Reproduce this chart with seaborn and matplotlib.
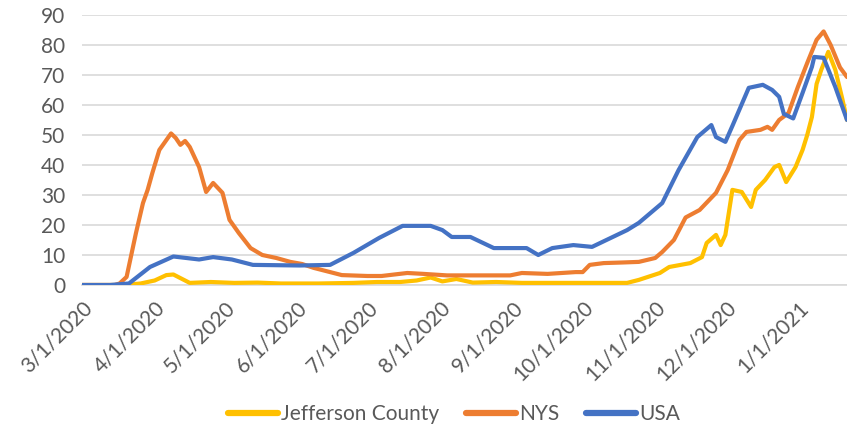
import matplotlib
matplotlib.use("Agg")
import matplotlib.pyplot as plt
import pandas as pd
import seaborn as sns

# ── Data ──────────────────────────────────────────────────────────────────────

jeff_dates = [
    "3/1/2020", "3/19/2020", "3/26/2020", "4/1/2020", "4/6/2020", "4/9/2020",
    "4/12/2020", "4/16/2020", "4/25/2020", "5/5/2020", "5/15/2020", "5/25/2020",
    "6/10/2020", "6/25/2020", "7/5/2020", "7/15/2020", "7/22/2020", "7/28/2020",
    "8/2/2020", "8/8/2020", "8/15/2020", "8/25/2020", "9/5/2020", "9/20/2020",
    "10/5/2020", "10/20/2020", "10/25/2020", "11/3/2020", "11/7/2020",
    "11/16/2020", "11/21/2020", "11/23/2020", "11/27/2020", "11/29/2020",
    "12/1/2020", "12/4/2020", "12/8/2020", "12/12/2020", "12/14/2020",
    "12/18/2020", "12/22/2020", "12/24/2020", "12/27/2020", "12/31/2020",
    "1/3/2021", "1/5/2021", "1/7/2021", "1/9/2021", "1/11/2021", "1/14/2021",
    "1/17/2021", "1/20/2021", "1/22/2021",
]
jeff_vals = [
    0, 0, 0.5, 1.5, 3.3, 3.5,
    2.3, 0.7, 1.0, 0.7, 0.8, 0.5,
    0.5, 0.7, 1.0, 1.0, 1.5, 2.5,
    1.2, 2.0, 0.8, 1.0, 0.7, 0.7,
    0.7, 0.7, 1.7, 4.0, 6.0,
    7.3, 9.3, 14.0, 16.7, 13.3,
    16.7, 31.7, 31.0, 26.0, 31.7,
    35.0, 39.3, 40.0, 34.3, 39.3,
    45.0, 50.0, 56.0, 67.0, 71.7, 77.7,
    71.7, 62.0, 55.0,
]

nys_dates = [
    "3/1/2020", "3/15/2020", "3/17/2020", "3/20/2020", "3/24/2020", "3/27/2020",
    "3/29/2020", "3/31/2020", "4/3/2020", "4/6/2020", "4/8/2020", "4/10/2020",
    "4/12/2020", "4/14/2020", "4/16/2020", "4/20/2020", "4/23/2020", "4/26/2020",
    "4/30/2020", "5/3/2020", "5/7/2020", "5/12/2020", "5/17/2020", "5/23/2020",
    "5/29/2020", "6/3/2020", "6/8/2020", "6/14/2020", "6/20/2020", "7/1/2020",
    "7/7/2020", "7/18/2020", "7/25/2020", "8/4/2020", "8/20/2020", "8/31/2020",
    "9/5/2020", "9/16/2020", "9/28/2020", "10/1/2020", "10/4/2020", "10/10/2020",
    "10/18/2020", "10/25/2020", "11/1/2020", "11/4/2020", "11/9/2020",
    "11/14/2020", "11/20/2020", "11/27/2020", "12/2/2020", "12/7/2020",
    "12/10/2020", "12/16/2020", "12/19/2020", "12/21/2020", "12/24/2020",
    "12/28/2020", "1/1/2021", "1/5/2021", "1/9/2021", "1/12/2021", "1/15/2021",
    "1/19/2021", "1/22/2021",
]
nys_vals = [
    0, 0, 0.5, 2.7, 17.3, 27.3,
    31.7, 37.3, 45.0, 48.3, 50.5, 49.0,
    46.7, 48.0, 46.0, 39.3, 31.0, 34.0,
    30.7, 21.7, 17.3, 12.3, 10.0, 9.0,
    7.7, 7.0, 5.7, 4.5, 3.3, 3.0,
    3.0, 4.0, 3.7, 3.2, 3.2, 3.2,
    4.0, 3.7, 4.3, 4.3, 6.7, 7.3,
    7.5, 7.7, 9.0, 11.0, 15.0,
    22.5, 25.0, 30.7, 38.3, 48.3,
    51.0, 51.7, 52.7, 51.7, 55.0,
    57.3, 66.0, 74.0, 81.7, 84.5, 80.0,
    72.5, 69.3,
]

usa_dates = [
    "3/1/2020", "3/13/2020", "3/21/2020", "3/30/2020", "4/9/2020", "4/20/2020",
    "4/26/2020", "5/4/2020", "5/13/2020", "6/2/2020", "6/15/2020", "6/25/2020",
    "7/6/2020", "7/16/2020", "7/28/2020", "8/2/2020", "8/6/2020", "8/14/2020",
    "8/24/2020", "9/7/2020", "9/12/2020", "9/18/2020", "9/27/2020", "10/5/2020",
    "10/20/2020", "10/25/2020", "11/4/2020", "11/11/2020", "11/19/2020",
    "11/25/2020", "11/27/2020", "12/1/2020", "12/4/2020", "12/11/2020",
    "12/17/2020", "12/21/2020", "12/24/2020", "12/26/2020", "12/30/2020",
    "1/3/2021", "1/7/2021", "1/8/2021", "1/12/2021", "1/17/2021", "1/22/2021",
]
usa_vals = [
    0, 0, 0.5, 6.0, 9.5, 8.5,
    9.3, 8.5, 6.7, 6.5, 6.7, 10.7,
    15.7, 19.7, 19.7, 18.3, 16.0, 16.0,
    12.3, 12.3, 10.0, 12.3, 13.3, 12.7,
    18.3, 20.7, 27.3, 38.3, 49.3,
    53.3, 49.3, 47.7, 53.0, 65.7,
    66.7, 65.0, 62.7, 57.0, 55.5,
    64.0, 72.7, 76.0, 75.7, 66.0, 55.0,
]

series_names = ["Jefferson County", "NYS", "USA"]
colors = ["#FFC000", "#ED7D31", "#4472C4"]

tick_dates = [
    "3/1/2020", "4/1/2020", "5/1/2020", "6/1/2020", "7/1/2020", "8/1/2020",
    "9/1/2020", "10/1/2020", "11/1/2020", "12/1/2020", "1/1/2021",
]
y_ticks = [0, 10, 20, 30, 40, 50, 60, 70, 80, 90]

# ── Build long table ──────────────────────────────────────────────────────────

frames = []
for name, d, v in zip(series_names,
                      [jeff_dates, nys_dates, usa_dates],
                      [jeff_vals, nys_vals, usa_vals]):
    frames.append(pd.DataFrame({"date": pd.to_datetime(d, format="%m/%d/%Y"),
                                "value": v, "series": name}))
df = pd.concat(frames, ignore_index=True)

# ── Plot ──────────────────────────────────────────────────────────────────────

sns.set_style("white")
plt.rcParams["font.family"] = ["Lato", "DejaVu Sans"]
text_color = "#595959"
grid_color = "#D9D9D9"
font_size = 15

fig = plt.figure(figsize=(8.47, 4.26), dpi=100)
ax = fig.add_axes([0.097, 0.331, 0.903, 0.634])

sns.lineplot(data=df, x="date", y="value", hue="series",
             hue_order=series_names, palette=colors,
             linewidth=3.0, ax=ax, legend=False, zorder=3)

ax.set_ylim(0, 90)
ax.set_xlim(pd.Timestamp("2020-03-01"), pd.Timestamp("2021-01-22"))
ax.set_yticks(y_ticks)
ax.yaxis.grid(True, color=grid_color, linewidth=1.2)
ax.set_axisbelow(True)

ticks = pd.to_datetime(tick_dates, format="%m/%d/%Y")
ax.set_xticks(ticks)
ax.set_xticklabels(tick_dates, rotation=45, ha="right", rotation_mode="anchor")
ax.tick_params(axis="x", colors=grid_color, length=6, width=1.2,
               labelcolor=text_color, labelsize=font_size, pad=3)
ax.tick_params(axis="y", length=0, labelcolor=text_color,
               labelsize=font_size, pad=12)

for side in ["top", "right", "left"]:
    ax.spines[side].set_visible(False)
ax.spines["bottom"].set_color(grid_color)
ax.spines["bottom"].set_linewidth(1.2)
ax.set_xlabel("")
ax.set_ylabel("")

handles = [plt.Line2D([0], [0], color=c, linewidth=4.5, solid_capstyle="round")
           for c in colors]
fig.legend(handles, series_names, loc="center", bbox_to_anchor=(0.536, 0.027),
           ncol=3, frameon=False, fontsize=font_size, handlelength=2.4,
           handletextpad=0.15, columnspacing=1.3, labelcolor=text_color)

plt.savefig("out.png", dpi=100)
plt.close()
